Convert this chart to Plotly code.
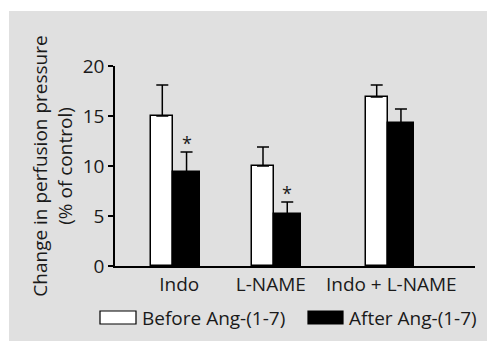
import plotly.graph_objects as go

# ---- data ----
groups = ["Indo", "L-NAME", "Indo + L-NAME"]
before_vals = [15.0, 10.0, 16.9]
before_err = [3.1, 1.9, 1.2]
after_vals = [9.4, 5.2, 14.3]
after_err = [2.0, 1.2, 1.4]
significant = [True, True, False]
y_ticks = [0, 5, 10, 15, 20]

# ---- layout helpers ----
W, H = 487, 341
ML, MR, MT, MB = 115, 12, 66, 75
PW, PH = W - ML - MR, H - MT - MB

def px_x(p):
    return (p - ML) / PW

def px_y(p):
    return (H - MB - p) / PH

group_pos = [0.583, 1.59, 2.727]     # boundary between the two bars of a group
label_pos = [0.642, 1.558, 2.763]
w_before, w_after = 0.22, 0.265

FONT = "Open Sans"
TXT = "#1a1a1a"

fig = go.Figure()
fig.add_trace(go.Bar(
    x=group_pos, y=before_vals, width=w_before, offset=-w_before,
    marker=dict(color="white", line=dict(color="black", width=1.5)),
    error_y=dict(type="data", array=before_err, arrayminus=[0] * 3, symmetric=False,
                 color="black", thickness=1.5, width=6),
    name="Before Ang-(1-7)", showlegend=False,
))
fig.add_trace(go.Bar(
    x=group_pos, y=after_vals, width=w_after, offset=0,
    marker=dict(color="black", line=dict(color="black", width=1.5)),
    error_y=dict(type="data", array=after_err, arrayminus=[0] * 3, symmetric=False,
                 color="black", thickness=1.5, width=6),
    name="After Ang-(1-7)", showlegend=False,
))

annotations = []
for gp, v, e, s in zip(group_pos, after_vals, after_err, significant):
    if s:
        annotations.append(dict(x=gp + w_after / 2, y=v + e + 0.9, xref="x", yref="y",
                                text="*", showarrow=False,
                                font=dict(family=FONT, size=18, color=TXT),
                                xanchor="center", yanchor="middle"))

# manual legend
shapes = [
    dict(type="rect", xref="paper", yref="paper", layer="below",
         x0=px_x(9), x1=px_x(W + 5), y0=px_y(11), y1=px_y(H + 5),
         fillcolor="#e0e0e0", line=dict(width=0)),
    dict(type="rect", xref="paper", yref="paper",
         x0=px_x(100), x1=px_x(136), y0=px_y(311), y1=px_y(324),
         fillcolor="white", line=dict(color="black", width=1.2)),
    dict(type="rect", xref="paper", yref="paper",
         x0=px_x(308), x1=px_x(343), y0=px_y(311), y1=px_y(324),
         fillcolor="black", line=dict(color="black", width=1.2)),
]
annotations += [
    dict(x=px_x(140), y=px_y(318), xref="paper", yref="paper", text="Before Ang-(1-7)",
         showarrow=False, xanchor="left", yanchor="middle",
         font=dict(family=FONT, size=19, color=TXT)),
    dict(x=px_x(347), y=px_y(318), xref="paper", yref="paper", text="After Ang-(1-7)",
         showarrow=False, xanchor="left", yanchor="middle",
         font=dict(family=FONT, size=19, color=TXT)),
]

fig.update_layout(
    width=W, height=H,
    margin=dict(l=ML, r=MR, t=MT, b=MB),
    paper_bgcolor="white", plot_bgcolor="rgba(0,0,0,0)",
    barmode="overlay", bargap=0,
    font=dict(family=FONT, size=19, color=TXT),
    shapes=shapes, annotations=annotations,
    xaxis=dict(range=[0, 3.6], tickmode="array", tickvals=label_pos, ticktext=groups,
               showline=True, linecolor="black", linewidth=1.5, ticks="",
               showgrid=False, zeroline=False, fixedrange=True,
               tickfont=dict(family=FONT, size=19, color=TXT)),
    yaxis=dict(range=[0, 20], tickmode="array", tickvals=y_ticks,
               showline=True, linecolor="black", linewidth=1.5,
               ticks="outside", ticklen=5, tickwidth=1.5, tickcolor="black",
               showgrid=False, zeroline=False,
               tickfont=dict(family=FONT, size=19, color=TXT),
               title=dict(text="Change in perfusion pressure<br>(% of control)",
                          font=dict(family=FONT, size=19, color=TXT), standoff=5)),
)

fig.write_html("out.html")
